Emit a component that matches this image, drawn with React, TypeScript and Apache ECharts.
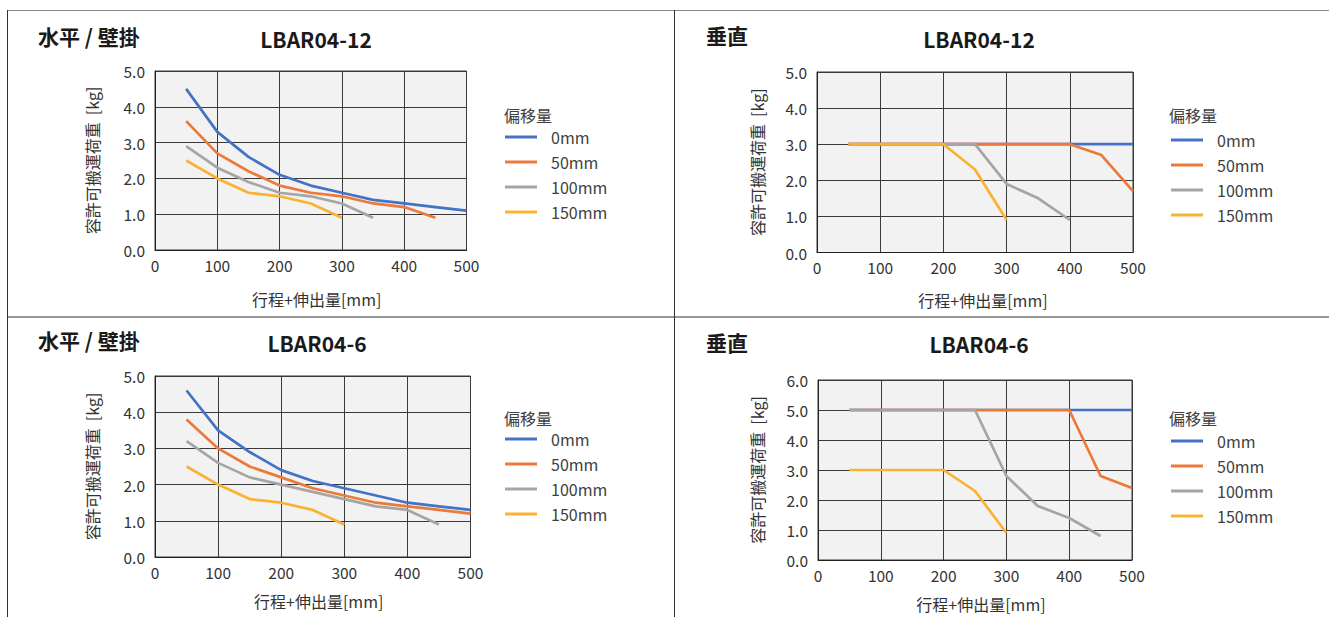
import React, { useEffect, useRef } from "react";
import * as echarts from "echarts";

const xValues = [50, 100, 150, 200, 250, 300, 350, 400, 450, 500];
const offsetNames = ["0mm", "50mm", "100mm", "150mm"];
const lineColors = ["#4472C4", "#EB7A3A", "#A5A5A5", "#F9B233"];

// 水平 / 壁掛 LBAR04-12
const h12_0 = [4.5, 3.3, 2.6, 2.1, 1.8, 1.6, 1.4, 1.3, 1.2, 1.1];
const h12_50 = [3.6, 2.7, 2.2, 1.8, 1.6, 1.5, 1.3, 1.2, 0.9];
const h12_100 = [2.9, 2.3, 1.9, 1.6, 1.5, 1.3, 0.9];
const h12_150 = [2.5, 2.0, 1.6, 1.5, 1.3, 0.9];

// 垂直 LBAR04-12
const v12_0 = [3.0, 3.0, 3.0, 3.0, 3.0, 3.0, 3.0, 3.0, 3.0, 3.0];
const v12_50 = [3.0, 3.0, 3.0, 3.0, 3.0, 3.0, 3.0, 3.0, 2.7, 1.7];
const v12_100 = [3.0, 3.0, 3.0, 3.0, 3.0, 1.9, 1.5, 0.9];
const v12_150 = [3.0, 3.0, 3.0, 3.0, 2.3, 0.9];

// 水平 / 壁掛 LBAR04-6
const h6_0 = [4.6, 3.5, 2.9, 2.4, 2.1, 1.9, 1.7, 1.5, 1.4, 1.3];
const h6_50 = [3.8, 3.0, 2.5, 2.2, 1.9, 1.7, 1.5, 1.4, 1.3, 1.2];
const h6_100 = [3.2, 2.6, 2.2, 2.0, 1.8, 1.6, 1.4, 1.3, 0.9];
const h6_150 = [2.5, 2.0, 1.6, 1.5, 1.3, 0.9];

// 垂直 LBAR04-6
const v6_0 = [5.0, 5.0, 5.0, 5.0, 5.0, 5.0, 5.0, 5.0, 5.0, 5.0];
const v6_50 = [5.0, 5.0, 5.0, 5.0, 5.0, 5.0, 5.0, 5.0, 2.8, 2.4];
const v6_100 = [5.0, 5.0, 5.0, 5.0, 5.0, 2.8, 1.8, 1.4, 0.8];
const v6_150 = [3.0, 3.0, 3.0, 3.0, 2.3, 0.9];

const panelSeries = [
  [h12_0, h12_50, h12_100, h12_150],
  [v12_0, v12_50, v12_100, v12_150],
  [h6_0, h6_50, h6_100, h6_150],
  [v6_0, v6_50, v6_100, v6_150],
];
const panelYMax = [5, 5, 5, 6];
const panelKind = ["水平 / 壁掛", "垂直", "水平 / 壁掛", "垂直"];
const panelModel = ["LBAR04-12", "LBAR04-12", "LBAR04-6", "LBAR04-6"];
const xTicks = [0, 100, 200, 300, 400, 500];

const yAxisName = "容許可搬運荷重  [kg]";
const xAxisName = "行程+伸出量[mm]";
const legendTitle = "偏移量";

const FONT = '"Noto Sans CJK JP", "Noto Sans", sans-serif';

// layout (pixels)
const grids = [
  { left: 155, top: 71, width: 311.5, height: 179 },
  { left: 817, top: 72, width: 316, height: 180.5 },
  { left: 155, top: 376, width: 315.5, height: 181 },
  { left: 818, top: 380, width: 314, height: 180 },
];
const kindPos = [
  { x: 38, y: 36 },
  { x: 706, y: 35 },
  { x: 38, y: 340 },
  { x: 706, y: 342 },
];
const modelPos = [
  { x: 316, y: 39 },
  { x: 979, y: 39 },
  { x: 317, y: 343 },
  { x: 979, y: 344 },
];
const legendPos = [
  { x: 505, y: 138, tx: 504, ty: 115 },
  { x: 1171, y: 141, tx: 1169, ty: 115 },
  { x: 505, y: 440, tx: 504, ty: 418 },
  { x: 1171, y: 442, tx: 1169, ty: 418 },
];
const xNameGap = [41, 39, 36, 36];
const xNameShift = [12, 16, 12, 12];
const yNameGap = [55, 52, 55, 53];

export default function App() {
  const ref = useRef<HTMLDivElement>(null);

  useEffect(() => {
    if (!ref.current) return;
    const chart = echarts.init(ref.current, undefined, { renderer: "svg" });

    const series: any[] = [];
    panelSeries.forEach((group, pi) => {
      group.forEach((vals, si) => {
        series.push({
          type: "line",
          name: offsetNames[si],
          xAxisIndex: pi,
          yAxisIndex: pi,
          data: vals.map((v, i) => [xValues[i], v]),
          showSymbol: false,
          symbol: "none",
          color: lineColors[si],
          lineStyle: { width: 2.7, color: lineColors[si], cap: "butt", join: "round" },
          z: 3 + si,
        });
      });
    });

    const graphic: any[] = [
      // panel frame lines
      { type: "line", shape: { x1: 7, y1: 10.5, x2: 1329, y2: 10.5 }, style: { stroke: "#8a8a8a", lineWidth: 1.2 } },
      { type: "line", shape: { x1: 7.5, y1: 10, x2: 7.5, y2: 617 }, style: { stroke: "#333", lineWidth: 1 } },
      { type: "line", shape: { x1: 674.5, y1: 10, x2: 674.5, y2: 617 }, style: { stroke: "#333", lineWidth: 1 } },
      { type: "line", shape: { x1: 7, y1: 317, x2: 1329, y2: 317 }, style: { stroke: "#333", lineWidth: 1 } },
    ];
    for (let i = 0; i < 4; i++) {
      graphic.push({
        type: "text",
        x: kindPos[i].x,
        y: kindPos[i].y,
        style: {
          text: panelKind[i],
          fontSize: 21,
          fontWeight: "bold",
          fontFamily: FONT,
          fill: "#1a1a1a",
          align: "left",
          verticalAlign: "middle",
        },
      });
      graphic.push({
        type: "text",
        x: modelPos[i].x,
        y: modelPos[i].y,
        style: {
          text: panelModel[i],
          fontSize: 21,
          fontWeight: "bold",
          fontFamily: FONT,
          fill: "#1a1a1a",
          align: "center",
          verticalAlign: "middle",
        },
      });
      graphic.push({
        type: "text",
        x: legendPos[i].tx,
        y: legendPos[i].ty,
        style: {
          text: legendTitle,
          fontSize: 16,
          fontFamily: FONT,
          fill: "#404040",
          align: "left",
          verticalAlign: "middle",
        },
      });
    }

    const option: any = {
      animation: false,
      textStyle: { fontFamily: FONT },
      grid: grids.map((g) => ({
        left: g.left,
        top: g.top,
        width: g.width,
        height: g.height,
        show: true,
        backgroundColor: "#F2F2F2",
        borderColor: "#3a3a3a",
        borderWidth: 1,
        containLabel: false,
      })),
      xAxis: grids.map((_, i) => ({
        type: "value",
        gridIndex: i,
        min: xTicks[0],
        max: xTicks[xTicks.length - 1],
        interval: 100,
        name: xAxisName,
        nameLocation: "middle",
        nameGap: xNameGap[i],
        nameTextStyle: {
          fontSize: 16,
          color: "#333",
          fontFamily: FONT,
          padding: [0, 0, 0, xNameShift[i]],
        },
        axisLine: { show: true, lineStyle: { color: "#222", width: 1 } },
        axisTick: { show: false },
        axisLabel: { fontSize: 15.5, color: "#333", margin: 7, fontFamily: FONT },
        splitLine: { show: true, lineStyle: { color: "#3a3a3a", width: 1 } },
      })),
      yAxis: grids.map((_, i) => ({
        type: "value",
        gridIndex: i,
        min: 0,
        max: panelYMax[i],
        interval: 1,
        name: yAxisName,
        nameLocation: "middle",
        nameRotate: 90,
        nameGap: yNameGap[i],
        nameTextStyle: { fontSize: 16, color: "#333", fontFamily: FONT },
        axisLine: { show: true, lineStyle: { color: "#222", width: 1 } },
        axisTick: { show: false },
        axisLabel: {
          fontSize: 15.5,
          color: "#333",
          margin: 10,
          fontFamily: FONT,
          formatter: (v: number) => v.toFixed(1),
        },
        splitLine: { show: true, lineStyle: { color: "#3a3a3a", width: 1 } },
      })),
      legend: legendPos.map((p) => ({
        data: offsetNames,
        orient: "vertical",
        left: p.x,
        top: p.y - 10,
        padding: 0,
        icon: "rect",
        itemWidth: 32,
        itemHeight: 3,
        itemGap: 7,
        selectedMode: false,
        textStyle: {
          fontSize: 16,
          lineHeight: 18,
          color: "#404040",
          fontFamily: FONT,
          padding: [0, 0, 0, 9],
        },
      })),
      series,
      graphic,
    };

    chart.setOption(option);
    return () => chart.dispose();
  }, []);

  return (
    <div
      ref={ref}
      style={{ position: "fixed", left: 0, top: 0, width: 1329, height: 617, background: "#fff" }}
    />
  );
}
